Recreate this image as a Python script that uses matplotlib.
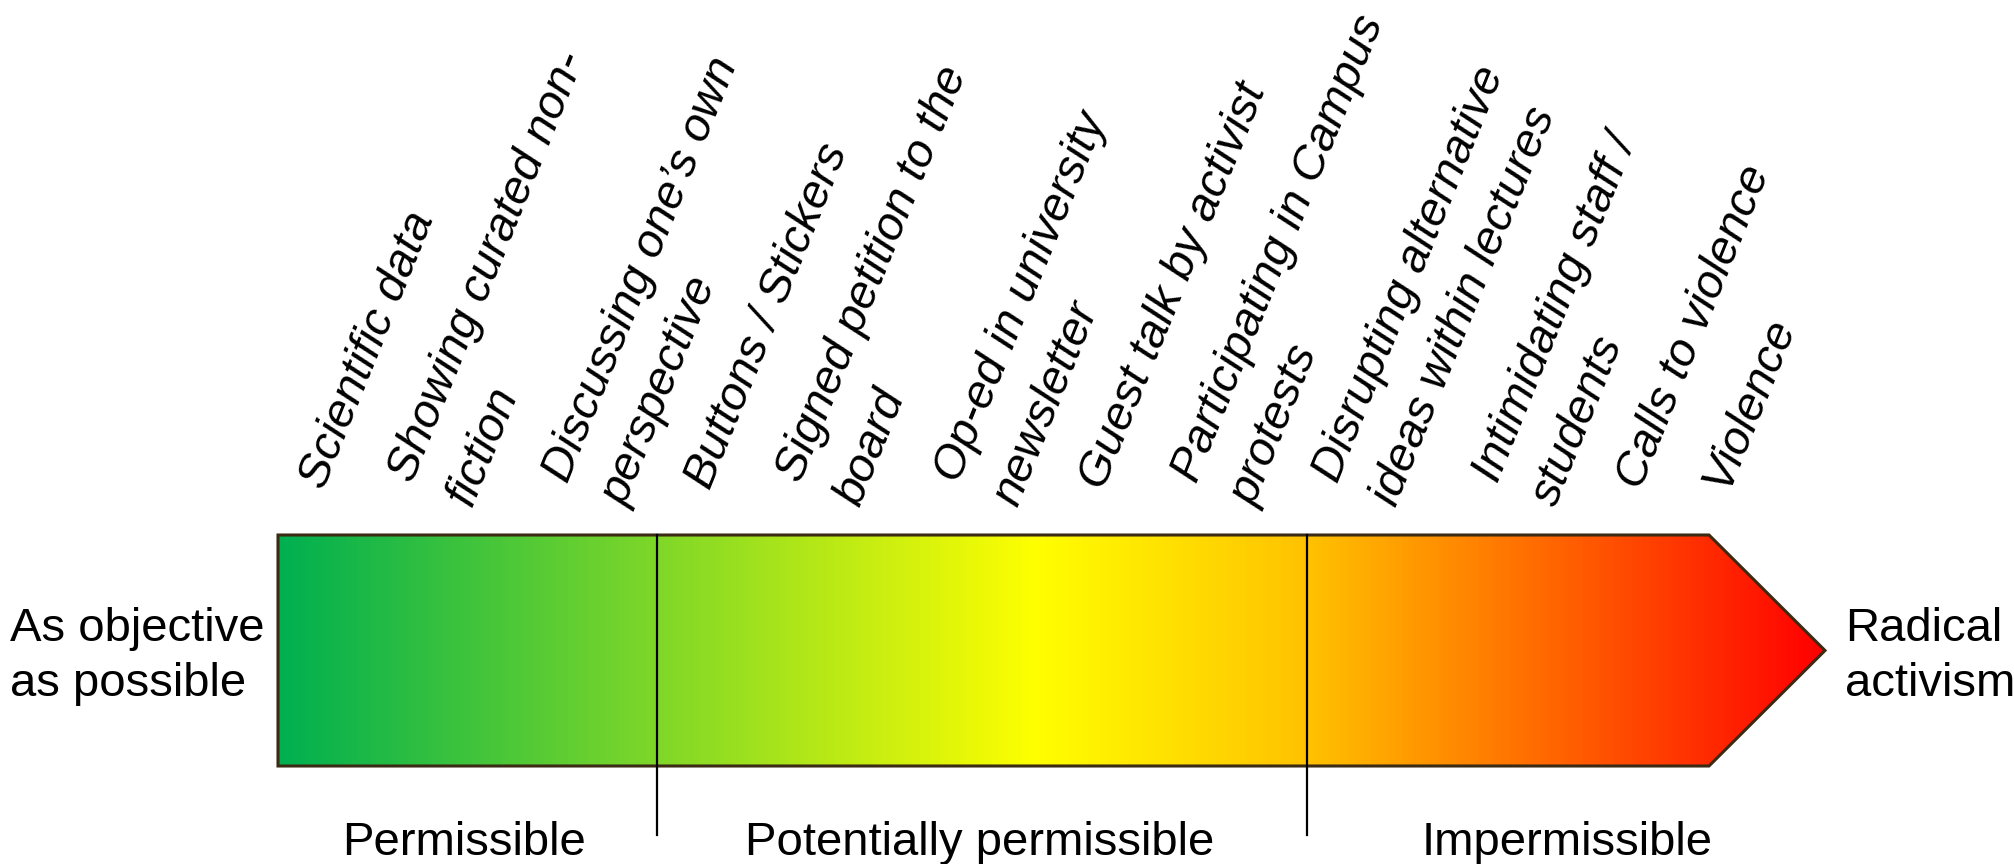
import numpy as np
import matplotlib
matplotlib.use("Agg")
import matplotlib.pyplot as plt
from matplotlib.colors import LinearSegmentedColormap
from matplotlib.patches import Polygon

# Behaviours along the spectrum (left = objective, right = radical)
behaviours = [
    "Scientific data",
    "Showing curated non-\nfiction",
    "Discussing one\u2019s own\nperspective",
    "Buttons / Stickers",
    "Signed petition to the\nboard",
    "Op-ed in university\nnewsletter",
    "Guest talk by activist",
    "Participating in Campus\nprotests",
    "Disrupting alternative\nideas within lectures",
    "Intimidating staff /\nstudents",
    "Calls to violence",
    "Violence",
]
zone_names = ["Permissible", "Potentially permissible", "Impermissible"]
end_labels = ["As objective\nas possible", "Radical\nactivism"]

# gradient stops (position, colour)
grad_pos = [0.0, 0.49, 0.67, 1.0]
grad_col = ["#00B050", "#FFFF00", "#FFC000", "#FF0000"]

# layout (pixel coordinates of the 2015x864 canvas)
x0, x_body, x_tip = 278, 1709, 1825
y_top, y_bot = 535, 766
y_mid = (y_top + y_bot) / 2
divider_x = [657, 1307]
divider_bottom = 835
# start of the last line of each rotated label
label_x = [324, 454, 609, 710, 842, 1000, 1104, 1238, 1379, 1539, 1641, 1727]
zone_x = [464, 980, 1567]

sans = ["Liberation Sans", "DejaVu Sans"]

fig = plt.figure(figsize=(20.15, 8.64), dpi=100)
ax = fig.add_axes([0, 0, 1, 1])
ax.set_xlim(0, 2015)
ax.set_ylim(864, 0)
ax.axis("off")

# gradient arrow
cmap = LinearSegmentedColormap.from_list("spectrum", list(zip(grad_pos, grad_col)))
arrow = Polygon([(x0, y_top), (x_body, y_top), (x_tip, y_mid), (x_body, y_bot), (x0, y_bot)],
                closed=True, facecolor="none", edgecolor="#3B2A14", linewidth=2.2, zorder=3)
ax.add_patch(arrow)
img = ax.imshow(np.linspace(0, 1, 600).reshape(1, -1), cmap=cmap, aspect="auto",
                extent=(x0, x_tip, y_bot, y_top), zorder=1, interpolation="bilinear")
img.set_clip_path(arrow)

# zone dividers
for dx in divider_x:
    ax.plot([dx, dx], [y_top, divider_bottom], color="black", linewidth=1.6, zorder=4)

# zone names
for name, zx in zip(zone_names, zone_x):
    ax.text(zx, 855, name, ha="center", va="baseline", fontsize=34, family=sans)

# end labels
ax.text(10, y_mid + 6, end_labels[0], ha="left", va="center", fontsize=34,
        family=sans, linespacing=1.3)
ax.text(1845, y_mid + 6, end_labels[1], ha="left", va="center", fontsize=34,
        family=sans, linespacing=1.3)

# rotated behaviour labels (anchored at the baseline start of their last line)
for lab, lx in zip(behaviours, label_x):
    ly = 491 if "\n" not in lab else 501
    ax.text(lx, ly, lab, rotation=68, rotation_mode="anchor", ha="left", va="baseline",
            fontsize=34, style="italic", family=sans, linespacing=1.55)

fig.savefig("out.png", dpi=100)
